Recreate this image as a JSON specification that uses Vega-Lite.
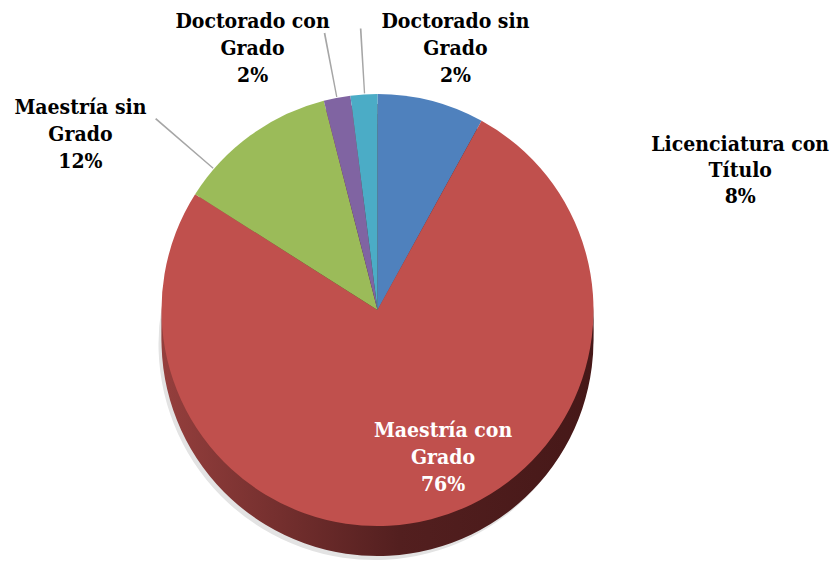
{
  "$schema": "https://vega.github.io/schema/vega-lite/v6.json",
  "autosize": "none",
  "width": 755,
  "height": 508,
  "padding": {"left": 0, "top": 56, "right": 82, "bottom": 0},
  "background": "white",
  "config": {"view": {"stroke": null}},
  "data": {
    "values": [
      {"orden": 1, "categoria": "Licenciatura con Título", "valor": 8, "rotulo": "Licenciatura con\nTítulo\n8%"},
      {"orden": 2, "categoria": "Maestría con Grado", "valor": 76, "rotulo": "Maestría con\nGrado\n76%"},
      {"orden": 3, "categoria": "Maestría sin Grado", "valor": 12, "rotulo": "Maestría sin\nGrado\n12%"},
      {"orden": 4, "categoria": "Doctorado con Grado", "valor": 2, "rotulo": "Doctorado con\nGrado\n2%"},
      {"orden": 5, "categoria": "Doctorado sin Grado", "valor": 2, "rotulo": "Doctorado sin\nGrado\n2%"}
    ]
  },
  "encoding": {
    "theta": {"field": "valor", "type": "quantitative", "stack": true},
    "order": {"field": "orden", "type": "quantitative"}
  },
  "layer": [
    {
      "mark": {"type": "arc", "radius": 216, "yOffset": 34, "xOffset": -3, "color": "#e3e3e3"}
    },
    {
      "mark": {"type": "arc", "radius": 216, "yOffset": 10, "color": {"gradient": "linear", "x1": 0, "y1": 0, "x2": 1, "y2": 0, "stops": [{"offset": 0, "color": "#953f3d"}, {"offset": 0.55, "color": "#531f1f"}, {"offset": 1, "color": "#461818"}]}}
    },
    {
      "mark": {"type": "arc", "radius": 216, "yOffset": 20, "color": {"gradient": "linear", "x1": 0, "y1": 0, "x2": 1, "y2": 0, "stops": [{"offset": 0, "color": "#953f3d"}, {"offset": 0.55, "color": "#531f1f"}, {"offset": 1, "color": "#461818"}]}}
    },
    {
      "mark": {"type": "arc", "radius": 216, "yOffset": 30, "color": {"gradient": "linear", "x1": 0, "y1": 0, "x2": 1, "y2": 0, "stops": [{"offset": 0, "color": "#953f3d"}, {"offset": 0.55, "color": "#531f1f"}, {"offset": 1, "color": "#461818"}]}}
    },
    {
      "mark": {"type": "arc", "radius": 216},
      "encoding": {
        "color": {
          "field": "categoria",
          "type": "nominal",
          "scale": {
            "domain": ["Licenciatura con Título", "Maestría con Grado", "Maestría sin Grado", "Doctorado con Grado", "Doctorado sin Grado"],
            "range": ["#4f81bd", "#c0504d", "#9bbb59", "#8064a2", "#4bacc6"]
          },
          "legend": null
        }
      }
    },
    {
      "transform": [
        {"stack": "valor", "sort": [{"field": "orden"}], "as": ["ini", "fin"]},
        {"filter": "datum.categoria == 'Doctorado con Grado'"}
      ],
      "mark": {"type": "arc", "radius": 282, "radius2": 217, "thetaOffset": 0.05934, "theta2Offset": -0.06021, "color": "#a6a6a6"},
      "encoding": {
        "theta": {"field": "ini", "type": "quantitative", "stack": null},
        "theta2": {"field": "fin"},
        "order": null
      }
    },
    {
      "transform": [
        {"stack": "valor", "sort": [{"field": "orden"}], "as": ["ini", "fin"]},
        {"filter": "datum.categoria == 'Doctorado sin Grado'"}
      ],
      "mark": {"type": "arc", "radius": 282, "radius2": 217, "thetaOffset": 0.06283, "theta2Offset": -0.05672, "color": "#a6a6a6"},
      "encoding": {
        "theta": {"field": "ini", "type": "quantitative", "stack": null},
        "theta2": {"field": "fin"},
        "order": null
      }
    },
    {
      "transform": [
        {"stack": "valor", "sort": [{"field": "orden"}], "as": ["ini", "fin"]},
        {"filter": "datum.categoria == 'Maestría sin Grado'"}
      ],
      "mark": {"type": "arc", "radius": 293, "radius2": 217, "thetaOffset": 0.14312, "theta2Offset": -0.60475, "color": "#a6a6a6"},
      "encoding": {
        "theta": {"field": "ini", "type": "quantitative", "stack": null},
        "theta2": {"field": "fin"},
        "order": null
      }
    },
    {
      "mark": {"type": "text", "radius": 155, "dx": 27, "dy": -29, "lineBreak": "\n", "lineHeight": 27, "font": "DejaVu Serif Condensed", "fontSize": 21, "fontWeight": "bold", "color": "white", "align": "center", "baseline": "middle"},
      "encoding": {"text": {"condition": {"test": "datum.categoria == 'Maestría con Grado'", "field": "rotulo"}, "value": ""}}
    },
    {
      "mark": {"type": "text", "radius": 240, "dx": 303, "dy": 67, "lineBreak": "\n", "lineHeight": 26, "font": "DejaVu Serif Condensed", "fontSize": 21, "fontWeight": "bold", "color": "black", "align": "center", "baseline": "middle"},
      "encoding": {"text": {"condition": {"test": "datum.categoria == 'Licenciatura con Título'", "field": "rotulo"}, "value": ""}}
    },
    {
      "mark": {"type": "text", "radius": 240, "dx": -156, "dy": -8, "lineBreak": "\n", "lineHeight": 27, "font": "DejaVu Serif Condensed", "fontSize": 21, "fontWeight": "bold", "color": "black", "align": "center", "baseline": "middle"},
      "encoding": {"text": {"condition": {"test": "datum.categoria == 'Maestría sin Grado'", "field": "rotulo"}, "value": ""}}
    },
    {
      "mark": {"type": "text", "radius": 240, "dx": -80, "dy": -52, "lineBreak": "\n", "lineHeight": 27, "font": "DejaVu Serif Condensed", "fontSize": 21, "fontWeight": "bold", "color": "black", "align": "center", "baseline": "middle"},
      "encoding": {"text": {"condition": {"test": "datum.categoria == 'Doctorado con Grado'", "field": "rotulo"}, "value": ""}}
    },
    {
      "mark": {"type": "text", "radius": 240, "dx": 93, "dy": -48, "lineBreak": "\n", "lineHeight": 27, "font": "DejaVu Serif Condensed", "fontSize": 21, "fontWeight": "bold", "color": "black", "align": "center", "baseline": "middle"},
      "encoding": {"text": {"condition": {"test": "datum.categoria == 'Doctorado sin Grado'", "field": "rotulo"}, "value": ""}}
    }
  ]
}
